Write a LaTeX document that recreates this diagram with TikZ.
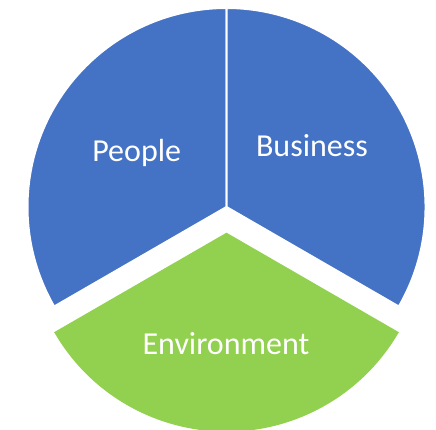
\documentclass[tikz,border=0pt]{standalone}
\usepackage{fontspec}
\setmainfont{Carlito}
\definecolor{pieblue}{HTML}{4472C4}
\definecolor{piegreen}{HTML}{92D050}
\begin{document}
\begin{tikzpicture}[x=1pt,y=1pt,
  sector/.style={draw=white,line width=2pt,line join=miter},
  lbl/.style={text=white,anchor=base,inner sep=0pt,font=\fontsize{32}{38}\selectfont}]
\useasboundingbox (0,0) rectangle (436,430);
\coordinate (c) at (226.5,223);
\coordinate (g) at (226.5,197.3);
\fill[pieblue] (c) -- ++(90:199) arc[start angle=90,end angle=210,radius=199] -- cycle;
\draw[sector] (c) -- ++(90:199) arc[start angle=90,end angle=210,radius=199] -- cycle;
\fill[pieblue] (c) -- ++(-30:199) arc[start angle=-30,end angle=90,radius=199] -- cycle;
\draw[sector] (c) -- ++(-30:199) arc[start angle=-30,end angle=90,radius=199] -- cycle;
\fill[piegreen] (g) -- ++(210:199) arc[start angle=210,end angle=330,radius=199] -- cycle;
\node[lbl] (people) at (136.7,268) {People};
\node[lbl] (business) at (312,273) {Business};
\node[lbl] (environment) at (226,75) {Environment};
\end{tikzpicture}
\end{document}
